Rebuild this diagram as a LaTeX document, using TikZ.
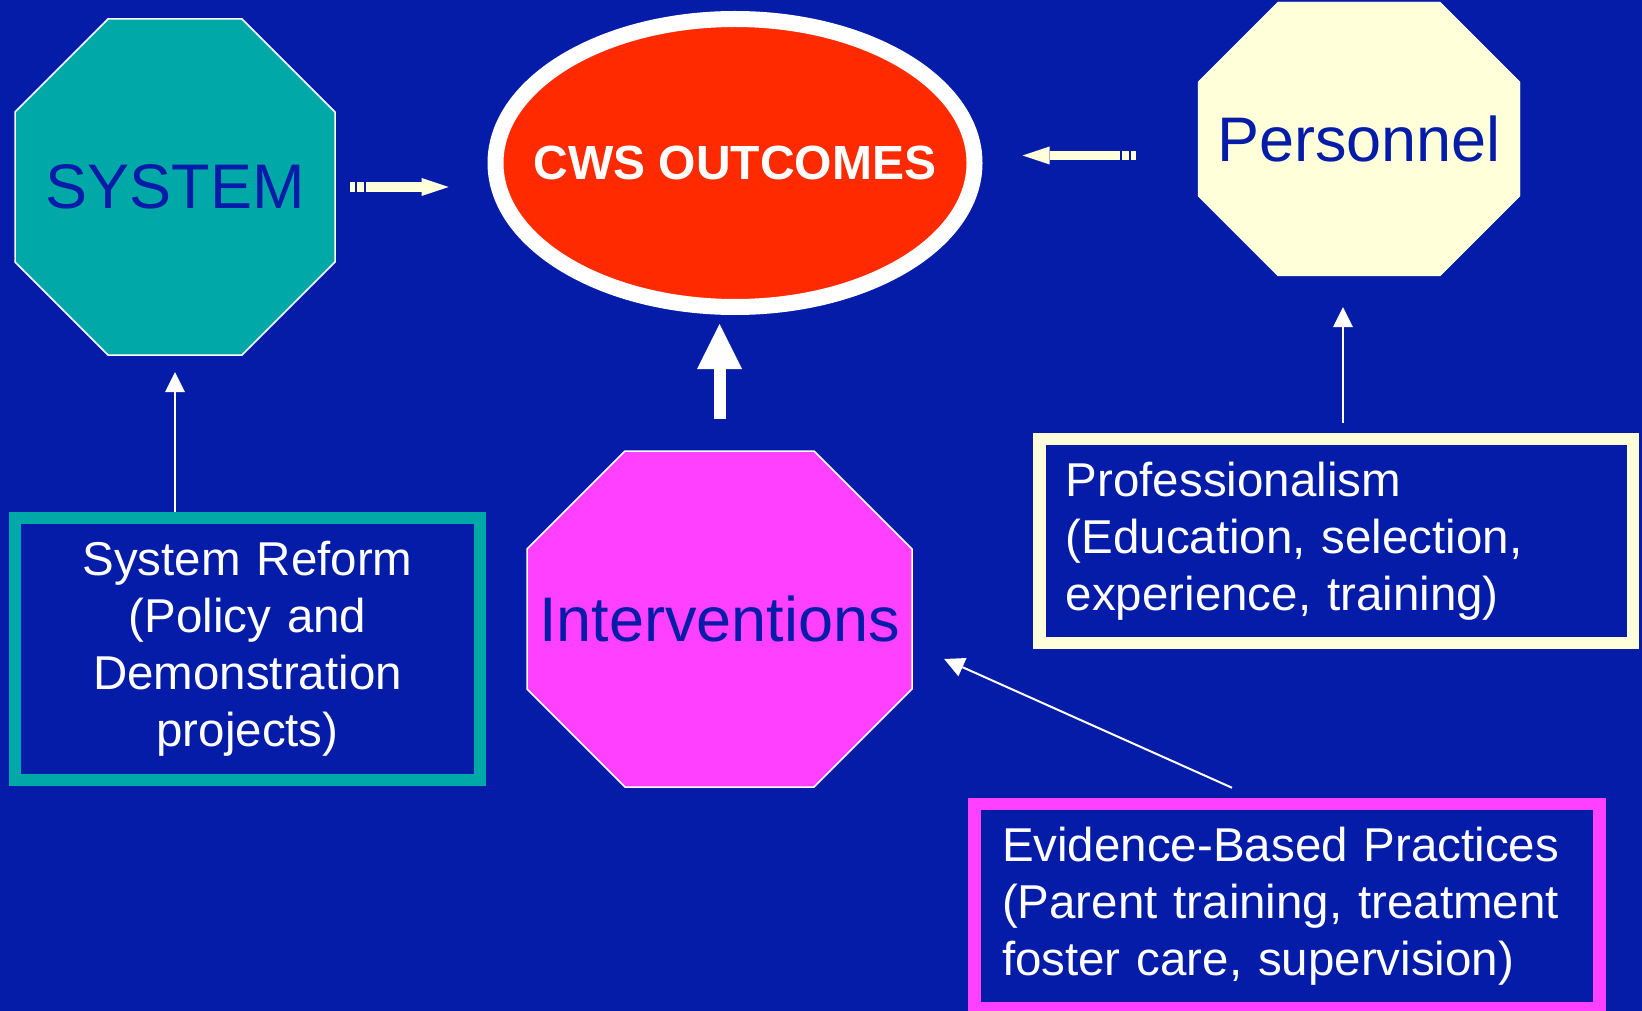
\documentclass[tikz,border=0pt]{standalone}
\usepackage{fontspec}
\setmainfont{Liberation Sans}
\usetikzlibrary{shapes.geometric,arrows.meta,calc}
\definecolor{bgblue}{RGB}{4,28,168}
\definecolor{octteal}{RGB}{0,168,168}
\definecolor{octpink}{RGB}{255,64,255}
\definecolor{octcream}{RGB}{255,255,217}
\definecolor{outred}{RGB}{255,42,0}

% octagon: centre, half width, half height, corner cut, look, name, text
\newcommand{\octnode}[7]{%
  \filldraw[#5] (#1) ++(-#2+#4,-#3) -- ++(2*#2-2*#4,0) -- ++(#4,#4) -- ++(0,2*#3-2*#4)
     -- ++(-#4,#4) -- ++(-2*#2+2*#4,0) -- ++(-#4,-#4) -- ++(0,-2*#3+2*#4) -- cycle;
  \node[octlabel,minimum width=2*#2,minimum height=2*#3] (#6) at (#1) {#7};}

\begin{document}
\begin{tikzpicture}[x=1pt,y=-1pt,
    octlabel/.style={rectangle,inner sep=0pt,text=bgblue,font=\fontsize{63}{75}\selectfont},
    infobox/.style={rectangle,draw=#1,line width=12.5pt,minimum height=204pt,text=white,font=\fontsize{47.5}{57}\selectfont},
    blockarrow/.style={draw=octcream,line width=9.5pt,dash pattern=on 5pt off 2pt on 6.5pt off 2.5pt on 400pt off 1pt,-{Triangle[length=27pt,width=18pt,line width=0pt]}},
    bigarrow/.style={draw=white,line width=12pt,-{Triangle[length=45pt,width=45pt,line width=0pt]}},
    thinarrow/.style={draw=white,line width=2pt,-{Triangle[length=20pt,width=20pt,line width=0pt]}}]
    \useasboundingbox (0,0) rectangle (1642,1011);
    \fill[bgblue] (0,0) rectangle (1642,1011);

    % the three octagons and the outcome
    \octnode{175,187}{160}{168}{93}{fill=octteal,draw=white,line width=1.5pt}{system}{SYSTEM}
    \octnode{1359,139}{161}{137}{80}{fill=octcream,draw=octcream}{personnel}{Personnel}
    \octnode{719.5,619}{192.5}{168}{98}{fill=octpink,draw=white,line width=1.5pt}{interventions}{Interventions}
    \node[ellipse,fill=outred,draw=white,line width=16pt,minimum width=479pt,minimum height=288pt,inner sep=0pt,
      label={[text=white,font=\fontsize{48}{58}\selectfont\bfseries]center:CWS OUTCOMES}] (outcomes) at (735,163) {};

    % boxes underneath
    \node[infobox=octteal,minimum width=465pt,minimum height=262pt,text width=440pt,inner xsep=12pt,align=center] (reform) at (247.5,649) {System Reform\\(Policy and\\Demonstration\\projects)};
    \node[infobox=octcream,minimum width=593.5pt,text width=540.5pt,inner xsep=26.5pt,align=left] (prof) at (1336,541) {Professionalism\\(Education, selection,\\experience, training)};
    \node[infobox=octpink,minimum width=625pt,text width=570pt,inner xsep=27.5pt,align=left] (ebp) at (1287,906) {Evidence-Based Practices\\(Parent training, treatment\\foster care, supervision)};

    % arrows
    \draw[blockarrow,shorten <=15pt,shorten >=39pt] (system.east) -- (system.east -| outcomes.west);
    \draw[blockarrow,shorten <=62pt,shorten >=40pt] ([yshift=-16.5pt]personnel.west) -- ([yshift=-16.5pt]personnel.west -| outcomes.east);
    \draw[bigarrow,shorten <=32pt,shorten >=9pt] (interventions.north) -- (interventions.north |- outcomes.south);
    \draw[thinarrow,shorten >=17pt] (system.south |- reform.north) -- (system.south);
    \draw[thinarrow,shorten <=10pt,shorten >=31pt] ([xshift=7pt]prof.north) -- ([xshift=7pt]prof.north |- personnel.south);
    \draw[thinarrow] ($(ebp.north)+(-55,-10)$) -- ($(interventions.east)+(32,40)$);
\end{tikzpicture}
\end{document}
